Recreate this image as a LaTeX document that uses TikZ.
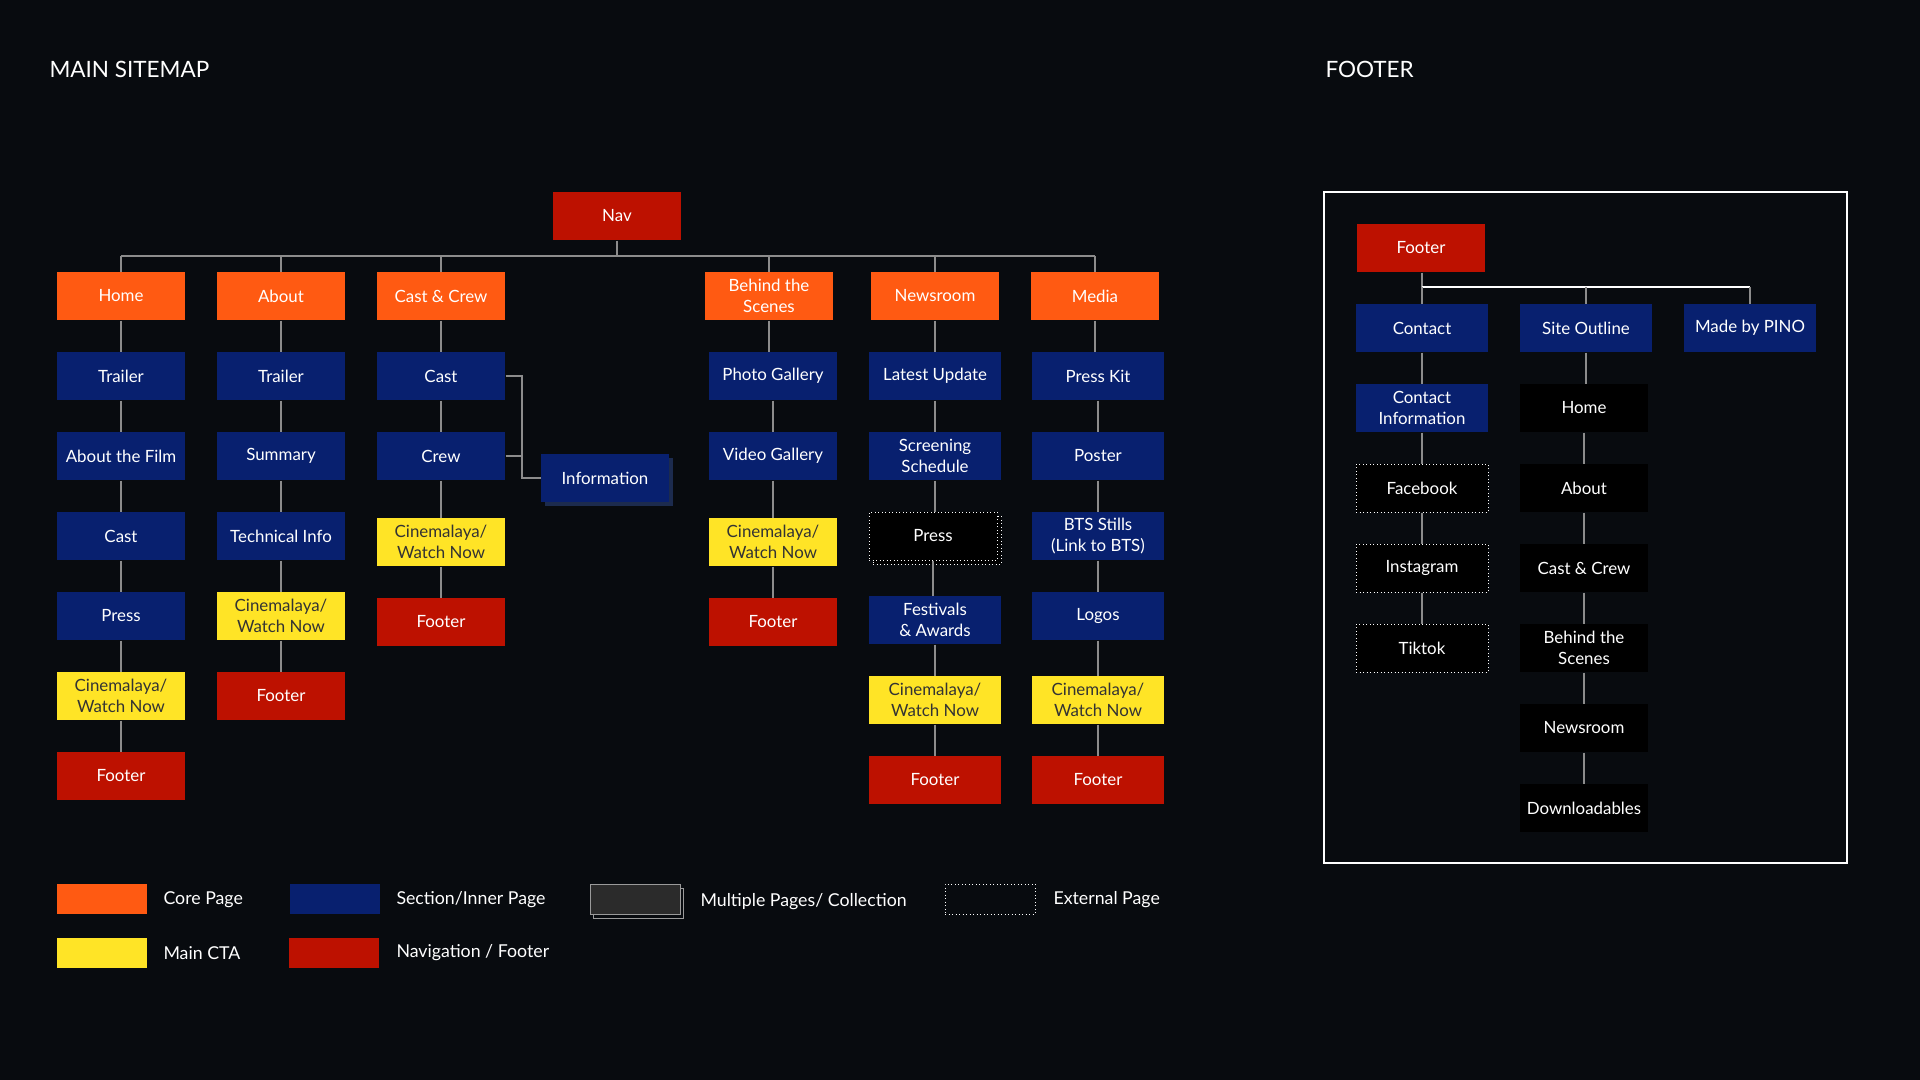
\documentclass[tikz,border=0pt]{standalone}
\usepackage{fontspec}
\setmainfont{Lato}
\usetikzlibrary{shadows}

\definecolor{bgdark}{HTML}{080B0F}
\definecolor{coreorange}{HTML}{FF5A12}
\definecolor{sectionblue}{HTML}{08206F}
\definecolor{ctayellow}{HTML}{FFE426}
\definecolor{ctatext}{HTML}{333333}
\definecolor{navred}{HTML}{BD1100}
\definecolor{linegray}{HTML}{8C8C8C}
\definecolor{collshadow}{HTML}{1C2B4E}
\definecolor{swatchgray}{HTML}{2B2B2B}
\definecolor{swatchedge}{HTML}{9A9A9A}

\tikzset{
  page/.style={minimum width=51.2pt, minimum height=19.2pt, inner sep=0pt,
    align=center, text=white, font=\fontsize{6.75}{8.5}\selectfont},
  wide/.style={minimum width=52.8pt},
  core/.style={page, fill=coreorange},
  section/.style={page, fill=sectionblue},
  cta/.style={page, fill=ctayellow, text=ctatext},
  navpage/.style={page, fill=navred},
  plainpage/.style={page, fill=black},
  collection/.style={section, general shadow={fill=collshadow, shadow xshift=1.6pt, shadow yshift=-1.6pt}},
  external/.style={page, fill=black, draw=white, densely dotted, line width=0.4pt},
  link/.style={draw=linegray, line width=0.7pt},
  swatch/.style={minimum width=36pt, minimum height=12pt, inner sep=0pt},
  legendtext/.style={anchor=west, inner sep=0pt, text=white, font=\fontsize{7.1}{9}\selectfont},
  heading/.style={anchor=base west, inner sep=0pt, text=white, font=\fontsize{9}{11}\selectfont},
}

\begin{document}
\begin{tikzpicture}[x=0.4pt,y=-0.4pt]
  \fill[bgdark] (0,0) rectangle (1920,1080);

  \node[heading] (maintitle) at (49,77) {MAIN SITEMAP};
  \node[heading] (footertitle) at (1325,77) {FOOTER};

  % main sitemap
  \begin{scope}
    \node[navpage] (nav) at (617,216) {Nav};

    \node[core] (home) at (121,296) {Home};
    \node[section] (hmtrailer) at (121,376) {Trailer};
    \node[section] (hmfilm) at (121,456) {About the Film};
    \node[section] (hmcast) at (121,536) {Cast};
    \node[section] (hmpress) at (121,616) {Press};
    \node[cta] (hmcta) at (121,696) {Cinemalaya/\\Watch Now};
    \node[navpage] (hmfooter) at (121,776) {Footer};

    \node[core] (about) at (281,296) {About};
    \node[section] (abtrailer) at (281,376) {Trailer};
    \node[section] (absummary) at (281,456) {Summary};
    \node[section] (abtech) at (281,536) {Technical Info};
    \node[cta] (abcta) at (281,616) {Cinemalaya/\\Watch Now};
    \node[navpage] (abfooter) at (281,696) {Footer};

    \node[core] (castcrew) at (441,296) {Cast \& Crew};
    \node[section] (cccast) at (441,376) {Cast};
    \node[section] (cccrew) at (441,456) {Crew};
    \node[cta] (cccta) at (441,542) {Cinemalaya/\\Watch Now};
    \node[navpage] (ccfooter) at (441,622) {Footer};
    \node[collection] (info) at (605,478) {Information};

    \node[core] (bts) at (769,296) {Behind the\\Scenes};
    \node[section] (btphoto) at (773,376) {Photo Gallery};
    \node[section] (btvideo) at (773,456) {Video Gallery};
    \node[cta] (btcta) at (773,542) {Cinemalaya/\\Watch Now};
    \node[navpage] (btfooter) at (773,622) {Footer};

    \node[core] (news) at (935,296) {Newsroom};
    \node[section,wide] (nwlatest) at (935,376) {Latest Update};
    \node[section,wide] (nwscreen) at (935,456) {Screening\\Schedule};
    \node[external, general shadow={draw=white, densely dotted, fill=black, shadow xshift=1.6pt, shadow yshift=-1.6pt}] (nwpress) at (933,536) {Press};
    \node[section,wide] (nwfest) at (935,620) {Festivals\\\& Awards};
    \node[cta,wide] (nwcta) at (935,700) {Cinemalaya/\\Watch Now};
    \node[navpage,wide] (nwfooter) at (935,780) {Footer};

    \node[core] (media) at (1095,296) {Media};
    \node[section,wide] (mdkit) at (1098,376) {Press Kit};
    \node[section,wide] (mdposter) at (1098,456) {Poster};
    \node[section,wide] (mdstills) at (1098,536) {BTS Stills\\(Link to BTS)};
    \node[section,wide] (mdlogos) at (1098,616) {Logos};
    \node[cta,wide] (mdcta) at (1098,700) {Cinemalaya/\\Watch Now};
    \node[navpage,wide] (mdfooter) at (1098,780) {Footer};

    \coordinate (navbus) at (617,256);
    \coordinate (infobus) at (522,376);

    \draw[link] (nav.south) -- (navbus);
    \draw[link] (home.north |- navbus) -- (media.north |- navbus);
    \foreach \top in {home,about,castcrew,bts,news,media}
      \draw[link] (\top.north) -- (\top.north |- navbus);

    \foreach \a/\b in {home/hmtrailer,hmtrailer/hmfilm,hmfilm/hmcast,hmcast/hmpress,hmpress/hmcta,hmcta/hmfooter,
      about/abtrailer,abtrailer/absummary,absummary/abtech,abtech/abcta,abcta/abfooter,
      castcrew/cccast,cccast/cccrew,cccrew/cccta,cccta/ccfooter,
      bts/btphoto,btphoto/btvideo,btvideo/btcta,btcta/btfooter,
      news/nwlatest,nwlatest/nwscreen,nwscreen/nwpress,nwpress/nwfest,nwfest/nwcta,nwcta/nwfooter,
      media/mdkit,mdkit/mdposter,mdposter/mdstills,mdstills/mdlogos,mdlogos/mdcta,mdcta/mdfooter}
      \draw[link] (\a.south) -- (\a.south |- \b.north);

    \draw[link] (cccast.east) -- (cccast.east -| infobus) |- (info.west);
    \draw[link] (cccrew.east) -- (cccrew.east -| infobus);
  \end{scope}

  % footer
  \begin{scope}
    \draw[white, line width=0.6pt] (1324,192) rectangle (1847,863);

    \node[navpage] (ftfooter) at (1421,248) {Footer};
    \node[section,wide] (ftcontact) at (1422,328) {Contact};
    \node[section,wide] (ftoutline) at (1586,328) {Site Outline};
    \node[section,wide] (ftmade) at (1750,328) {Made by PINO};

    \node[section,wide] (ftinfo) at (1422,408) {Contact\\Information};
    \node[external,wide] (ftfacebook) at (1422,488) {Facebook};
    \node[external,wide] (ftinsta) at (1422,568) {Instagram};
    \node[external,wide] (fttiktok) at (1422,648) {Tiktok};

    \node[plainpage] (sohome) at (1584,408) {Home};
    \node[plainpage] (soabout) at (1584,488) {About};
    \node[plainpage] (socast) at (1584,568) {Cast \& Crew};
    \node[plainpage] (sobts) at (1584,648) {Behind the\\Scenes};
    \node[plainpage] (sonews) at (1584,728) {Newsroom};
    \node[plainpage] (sodown) at (1584,808) {Downloadables};

    \coordinate (ftbus) at (1422,287);

    \draw[link] (ftfooter.south -| ftbus) -- (ftbus);
    \draw[white, line width=0.5pt] (ftbus) -- (ftmade.north |- ftbus);
    \foreach \top in {ftcontact,ftoutline,ftmade}
      \draw[link] (\top.north) -- (\top.north |- ftbus);

    \foreach \a/\b in {ftcontact/ftinfo,ftinfo/ftfacebook,ftfacebook/ftinsta,ftinsta/fttiktok,
      ftoutline/sohome,sohome/soabout,soabout/socast,socast/sobts,sobts/sonews,sonews/sodown}
      \draw[link] (\a.south) -- (\a.south |- \b.north);
  \end{scope}

  % legend
  \node[swatch, fill=coreorange] (lgcore) at (102,899) {};
  \node[legendtext] (lgcoretext) at (163,900) {Core Page};
  \node[swatch, fill=sectionblue] (lgsection) at (335,899) {};
  \node[legendtext] (lgsectiontext) at (396,900) {Section/Inner Page};
  \node[swatch, fill=swatchgray, draw=swatchedge, line width=0.4pt,
    general shadow={draw=swatchedge, fill=bgdark, shadow xshift=1.4pt, shadow yshift=-1.6pt}] (lgmulti) at (635,899) {};
  \node[legendtext] (lgmultitext) at (700,902) {Multiple Pages/ Collection};
  \node[swatch, draw=white, densely dotted, line width=0.4pt] (lgext) at (990,899) {};
  \node[legendtext] (lgexttext) at (1053,900) {External Page};
  \node[swatch, fill=ctayellow] (lgcta) at (102,953) {};
  \node[legendtext] (lgctatext) at (163,953) {Main CTA};
  \node[swatch, fill=navred] (lgnav) at (334,953) {};
  \node[legendtext] (lgnavtext) at (396,953) {Navigation / Footer};
\end{tikzpicture}
\end{document}
